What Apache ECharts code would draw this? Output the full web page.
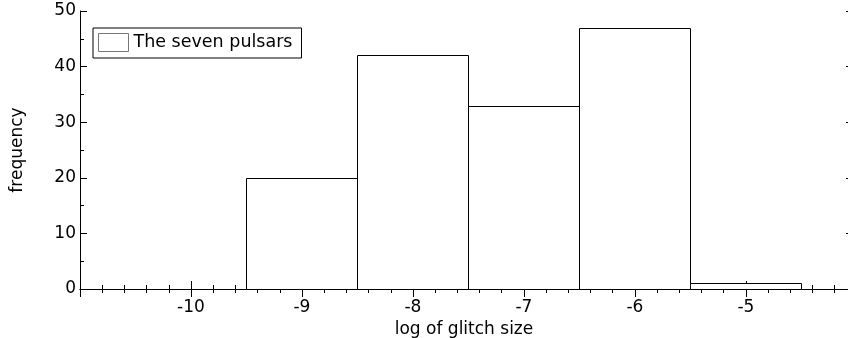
<!DOCTYPE html>
<html><head><meta charset="utf-8">
<script src="https://cdn.jsdelivr.net/npm/echarts@6/dist/echarts.min.js"></script>
<style>html,body{margin:0;padding:0;background:#fff}#c{width:848px;height:338px}</style>
</head><body><div id="c"></div>
<script>
const binCenters = [-10, -9, -8, -7, -6, -5];
const frequencies = [0, 20, 42, 33, 47, 1];
const seriesName = 'The seven pulsars';

const F = 'DejaVu Sans, Verdana, sans-serif';
const chart = echarts.init(document.getElementById('c'), null, {renderer: 'canvas'});
const axisCommon = {
  axisLine: {show: true, lineStyle: {color: '#000', width: 1}},
  splitLine: {show: false}
};
chart.setOption({
  animation: false,
  backgroundColor: '#fff',
  grid: {left: 80, top: 11, right: 0, bottom: 49, outerBoundsMode: 'none', containLabel: false},
  legend: {
    left: 93, top: 28, orient: 'vertical',
    padding: [5, 9, 6, 5],
    borderColor: '#000', borderWidth: 1,
    itemWidth: 30, itemHeight: 18, itemGap: 5,
    textStyle: {fontFamily: F, fontSize: 17.5, color: '#000'},
    data: [{name: seriesName, icon: 'rect', itemStyle: {color: '#fff', borderColor: '#777', borderWidth: 1}}]
  },
  xAxis: [{
    type: 'value', position: 'bottom', min: -11, max: -4.08, interval: 1,
    ...axisCommon,
    axisTick: {show: true, inside: true, length: 8, lineStyle: {color: '#000'}},
    minorTick: {show: true, splitNumber: 5, length: 4, lineStyle: {color: '#000'}},
    axisLabel: {fontFamily: F, fontSize: 17, color: '#000', margin: 10,
      formatter: v => (v <= -5 && v >= -10) ? String(v) : ''},
    name: 'log of glitch size', nameLocation: 'middle', nameGap: 27,
    nameTextStyle: {fontFamily: F, fontSize: 17, color: '#000'}
  }, {
    type: 'value', position: 'top', min: -11, max: -4.08, interval: 1,
    ...axisCommon,
    axisTick: {show: true, inside: true, length: 8, lineStyle: {color: '#000'}},
    minorTick: {show: true, splitNumber: 5, length: 4, lineStyle: {color: '#000'}},
    axisLabel: {show: false}
  }],
  yAxis: [{
    type: 'value', position: 'left', min: 0, max: 50, interval: 10,
    ...axisCommon,
    axisTick: {show: true, inside: true, length: 7, lineStyle: {color: '#000'}},
    minorTick: {show: true, splitNumber: 2, length: 4, lineStyle: {color: '#000'}},
    axisLabel: {fontFamily: F, fontSize: 17, color: '#000', margin: 4},
    name: 'frequency', nameLocation: 'middle', nameGap: 54, nameRotate: 90,
    nameTextStyle: {fontFamily: F, fontSize: 17, color: '#000'}
  }, {
    type: 'value', position: 'right', min: 0, max: 50, interval: 10,
    axisLine: {show: false}, splitLine: {show: false},
    axisTick: {show: true, inside: true, length: 2, lineStyle: {color: '#000'}},
    minorTick: {show: false},
    axisLabel: {show: false}
  }],
  series: [{
    type: 'custom', name: seriesName,
    xAxisIndex: 0, yAxisIndex: 0,
    itemStyle: {color: '#fff', borderColor: '#777'},
    data: binCenters.map((c, i) => [c, frequencies[i]]),
    renderItem: (params, api) => {
      const c = api.value(0), v = api.value(1);
      if (!v) return null;
      const p0 = api.coord([c - 0.5, v]);
      const p1 = api.coord([c + 0.5, 0]);
      const x0 = Math.round(p0[0]) + 0.5, x1 = Math.round(p1[0]) + 0.5;
      const y0 = Math.round(p0[1]) + 0.5, y1 = Math.round(p1[1]) + 0.5;
      return {
        type: 'rect',
        shape: {x: x0, y: y0, width: x1 - x0, height: y1 - y0},
        style: {fill: '#fff', stroke: '#000', lineWidth: 1}
      };
    }
  }]
});
</script></body></html>
